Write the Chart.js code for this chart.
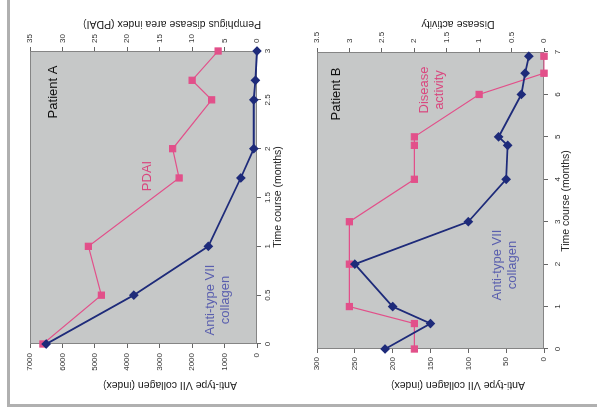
<!DOCTYPE html>
<html>
<head>
<meta charset="utf-8">
<script src="https://cdn.jsdelivr.net/npm/chart.js@4.4.1/dist/chart.umd.min.js"></script>
<style>
  html, body { margin: 0; padding: 0; background: #fff; overflow: hidden; }
  #page { position: relative; width: 597px; height: 415px; }
  /* the figure is laid out upright (415 x 597) and turned a quarter left */
  #fig { position: absolute; left: 0; top: 0; width: 415px; height: 597px;
         transform-origin: 0 0; transform: translateY(415px) rotate(-90deg); }
  #fig canvas { position: absolute; left: 0; }
  #chartA { top: 0; }
  #chartB { top: 300px; }
  .rule { position: absolute; background: #b0b0b0; }
</style>
</head>
<body>
<div id="page">
  <div id="fig">
    <canvas id="chartA" width="415" height="300"></canvas>
    <canvas id="chartB" width="415" height="297"></canvas>
  </div>
  <div class="rule" style="left:7px;top:0;width:3px;height:407px"></div>
  <div class="rule" style="left:7px;top:404px;width:590px;height:3px"></div>
</div>
<script>
// Patient A
const timeA = [0, 0.5, 1, 1.7, 2, 2.5, 2.7, 3];
const collagenA = [6500, 3800, 1500, 500, 100, 100, 50, 0];
const pdaiA = [33, 24, 26, 12, 13, 7, 10, 6];

// Patient B
const timeB = [0, 0.6, 1, 2, 3, 4, 4.8, 5, 6, 6.5, 6.9];
const collagenB = [210, 150, 200, 250, 100, 50, 48, 60, 30, 25, 20];
const activityB = [2, 2, 3, 3, 3, 2, 2, 2, 1, 0, 0];

const FONT = '"Liberation Sans", Arial, sans-serif';
const BLUE = '#1e2b7a';
const PINK = '#e2508a';
const BLUE_TEXT = '#5a5fae';
const PINK_TEXT = '#d9487f';

// background of the plot area + free text (labels, axis titles)
const notesPlugin = {
  id: 'notes',
  beforeDraw(chart) {
    const { ctx, chartArea: a } = chart;
    ctx.save();
    ctx.fillStyle = '#c6c8c8';
    ctx.fillRect(a.left, a.top, a.width, a.height);
    ctx.strokeStyle = '#858585';
    ctx.lineWidth = 1;
    ctx.strokeRect(a.left + 0.5, a.top + 0.5, a.width - 1, a.height - 1);
    ctx.restore();
  },
  afterDraw(chart, args, opts) {
    const ctx = chart.ctx;
    for (const n of opts.items || []) {
      ctx.save();
      ctx.translate(n.x, n.y);
      if (n.rot) ctx.rotate(n.rot * Math.PI / 180);
      ctx.font = n.size + 'px ' + FONT;
      ctx.fillStyle = n.color || '#222';
      ctx.textAlign = 'center';
      ctx.textBaseline = 'middle';
      const lh = n.lh || n.size * 1.15;
      n.text.forEach((t, i) => ctx.fillText(t, 0, (i - (n.text.length - 1) / 2) * lh));
      ctx.restore();
    }
  }
};

function pts(xs, ys) {
  return xs.map((x, i) => ({ x: x, y: ys[i] }));
}

function axis(extra) {
  const tickFont = { family: FONT, size: 8 };
  return Object.assign({
    type: 'linear',
    border: { display: false },
    grid: { display: true, drawOnChartArea: false, drawTicks: true, tickLength: 4, color: '#666' },
    title: { display: false }
  }, extra, {
    ticks: Object.assign({ font: tickFont, color: '#333', maxRotation: 0, autoSkip: false,
                           callback: v => String(v) }, extra.ticks)
  });
}

function makeChart(id, cfg) {
  return new Chart(document.getElementById(id), {
    type: 'scatter',
    data: {
      datasets: [
        {
          data: cfg.blue, yAxisID: 'y', showLine: true, clip: false,
          borderColor: BLUE, backgroundColor: BLUE, borderWidth: 1.8,
          pointStyle: 'rectRot', pointRadius: 3.6
        },
        {
          data: cfg.pink, yAxisID: 'y2', showLine: true, clip: false,
          borderColor: PINK, backgroundColor: PINK, borderWidth: 1.2,
          pointStyle: 'rect', pointRadius: 4.3
        }
      ]
    },
    options: {
      responsive: false,
      animation: false,
      layout: { padding: { top: cfg.padTop, left: 0, right: 0, bottom: 0 } },
      scales: {
        x: axis({ position: 'bottom', min: cfg.xMax[0], max: cfg.xMax[1],
                  afterFit: s => { s.height = cfg.sizes[0]; },
                  ticks: { stepSize: cfg.xStep, padding: cfg.pads[0] } }),
        y: axis({ position: 'left', min: 0, max: cfg.yMax,
                  afterFit: s => { s.width = cfg.sizes[1]; },
                  ticks: { stepSize: cfg.yStep, padding: cfg.pads[1] } }),
        y2: axis({ position: 'right', min: 0, max: cfg.y2Max,
                   afterFit: s => { s.width = cfg.sizes[2]; },
                   ticks: { stepSize: cfg.y2Step, padding: cfg.pads[2] } })
      },
      plugins: {
        legend: { display: false },
        tooltip: { enabled: false },
        notes: { items: cfg.notes }
      }
    },
    plugins: [notesPlugin]
  });
}

makeChart('chartA', {
  blue: pts(timeA, collagenA),
  pink: pts(timeA, pdaiA),
  xMax: [0, 3], xStep: 0.5,
  yMax: 7000, yStep: 1000,
  y2Max: 35, y2Step: 5,
  padTop: 30,
  sizes: [43, 71, 51],
  pads: [2, 5, 4],
  notes: [
    { text: ['Patient A'], x: 323, y: 53, size: 13, color: '#111' },
    { text: ['PDAI'], x: 239, y: 147, size: 13, color: PINK_TEXT },
    { text: ['Anti-type VII', 'collagen'], x: 115, y: 218, size: 13, lh: 15, color: BLUE_TEXT },
    { text: ['Time course (months)'], x: 218, y: 278, size: 10.5 },
    { text: ['Anti-type VII collagen (index)'], x: 30, y: 170, size: 10.5, rot: -90 },
    { text: ['Pemphigus disease area index (PDAI)'], x: 391, y: 172, size: 10.5, rot: -90 }
  ]
});

makeChart('chartB', {
  blue: pts(timeB, collagenB),
  pink: pts(timeB, activityB),
  xMax: [0, 7], xStep: 1,
  yMax: 300, yStep: 50,
  y2Max: 3.5, y2Step: 0.5,
  padTop: 17,
  sizes: [53, 66, 52],
  pads: [5, 4, 5],
  notes: [
    { text: ['Patient B'], x: 321, y: 36, size: 13, color: '#111' },
    { text: ['Disease', 'activity'], x: 325, y: 132, size: 13, lh: 15, color: PINK_TEXT },
    { text: ['Anti-type VII', 'collagen'], x: 150, y: 205, size: 13, lh: 15, color: BLUE_TEXT },
    { text: ['Time course (months)'], x: 214, y: 266, size: 10.5 },
    { text: ['Anti-type VII collagen (index)'], x: 30, y: 158, size: 10.5, rot: -90 },
    { text: ['Disease activity'], x: 391, y: 158, size: 10.5, rot: -90 }
  ]
});
</script>
</body>
</html>
